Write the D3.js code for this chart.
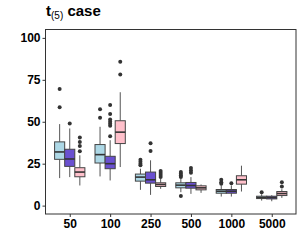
<!DOCTYPE html>
<html><head><meta charset="utf-8">
<script src="https://cdn.jsdelivr.net/npm/d3@7"></script>
<style>body{margin:0;background:#fff}svg{display:block;font-family:"Liberation Sans",Arial,sans-serif}</style>
</head><body><svg id="c" width="301" height="251"></svg>
<script>
const categories = ["50","100","250","500","1000","5000"];
const seriesNames = ["A","B","C"];
const seriesColors = ["#ADD8E6","#6A50D0","#FFC0CB"];
const yTicks = [0,25,50,75,100];
// [whiskerLow, q1, median, q3, whiskerHigh] per category
const statsA = [[16.4,27.6,32.0,38.0,48.6],[17.4,25.4,30.4,36.4,47],[9.4,14.6,17.0,18.8,22],[8,10.6,12.2,13.6,16],[5.4,7.4,8.6,9.6,12],[3,4.2,4.8,5.6,6.8]];
const statsB = [[17.0,23.4,27.8,33.6,46],[15,22,25,29.4,39],[6.4,13.4,15.4,20,27],[7,10.4,12,13.8,17],[5.4,7.4,8.6,9.6,12],[2.6,4.0,4.8,5.6,6.2]];
const statsC = [[12,17.2,20,22.6,30],[23,37,43.8,50.6,67.6],[10,11.4,12.6,13.6,16],[7.6,9.4,10.6,11.8,12.6],[8.4,12.8,15.4,17.8,23.8],[4.6,6.0,7.2,8.4,9.8]];
const outA = [[58.6,69.6],[52.4,57.4],[24.0,25.0,26.2,27.4],[17,18,19,20,5.8],[13,14,15.4],[8.0]];
const outB = [[49],[41.4,47.6,48.8,50,51.4,54.6,60],[32.6,37.2],[19.6,21,22.4],[13.4],[]];
const outC = [[32.4,35.6,38,40.6],[78.2,85.8],[17,18.2,19.4,20.6],[],[],[11.4,14]];
const allStats = [statsA,statsB,statsC];
const allOut = [outA,outB,outC];

const svg = d3.select("#c");
const L = 45.5, R = 296, T = 29.5, B = 214;
const x = d3.scalePoint().domain(categories).range([L,R]).padding(0.6);
const step = x.step();
const xs = d3.scaleBand().domain(seriesNames).range([-0.375*step,0.375*step]);
const y = d3.scaleLinear().domain([-5,105]).range([B,T]);

svg.append("rect").attr("x",L).attr("y",T).attr("width",R-L).attr("height",B-T)
  .attr("fill","#fff").attr("stroke","#333").attr("stroke-width",1);

const gy = svg.append("g").attr("transform",`translate(${L},0)`)
  .call(d3.axisLeft(y).tickValues(yTicks).tickSize(3).tickPadding(2));
const gx = svg.append("g").attr("transform",`translate(0,${B})`)
  .call(d3.axisBottom(x).tickSize(3).tickPadding(2.5));
[gx,gy].forEach(g=>{
  g.select(".domain").remove();
  g.selectAll(".tick line").attr("stroke","#333");
  g.selectAll(".tick text").attr("fill","#000").attr("font-size",12).attr("font-weight","bold");
});

const plot = svg.append("g");
seriesNames.forEach((s,si)=>{
  categories.forEach((c,ci)=>{
    const st = allStats[si][ci];
    const x0 = x(c)+xs(s), w = xs.bandwidth(), cx = x0+w/2;
    const g = plot.append("g");
    g.append("line").attr("x1",cx).attr("x2",cx).attr("y1",y(st[3])).attr("y2",y(st[4])).attr("stroke","#555").attr("stroke-width",1);
    g.append("line").attr("x1",cx).attr("x2",cx).attr("y1",y(st[0])).attr("y2",y(st[1])).attr("stroke","#555").attr("stroke-width",1);
    g.append("rect").attr("x",x0).attr("width",w).attr("y",y(st[3])).attr("height",y(st[1])-y(st[3]))
      .attr("fill",seriesColors[si]).attr("stroke","#444").attr("stroke-width",1);
    g.append("line").attr("x1",x0).attr("x2",x0+w).attr("y1",y(st[2])).attr("y2",y(st[2])).attr("stroke","#333").attr("stroke-width",1.6);
    allOut[si][ci].forEach(v=>{
      g.append("circle").attr("cx",cx).attr("cy",y(v)).attr("r",2).attr("fill","#333");
    });
  });
});

const title = svg.append("text").attr("x",46).attr("y",16).attr("font-size",15).attr("font-weight","bold").attr("fill","#000");
title.append("tspan").text("t");
title.append("tspan").attr("font-size",10).attr("font-weight","normal").attr("dy",3).text("(5)");
title.append("tspan").attr("dy",-3).text(" case");
</script></body></html>
